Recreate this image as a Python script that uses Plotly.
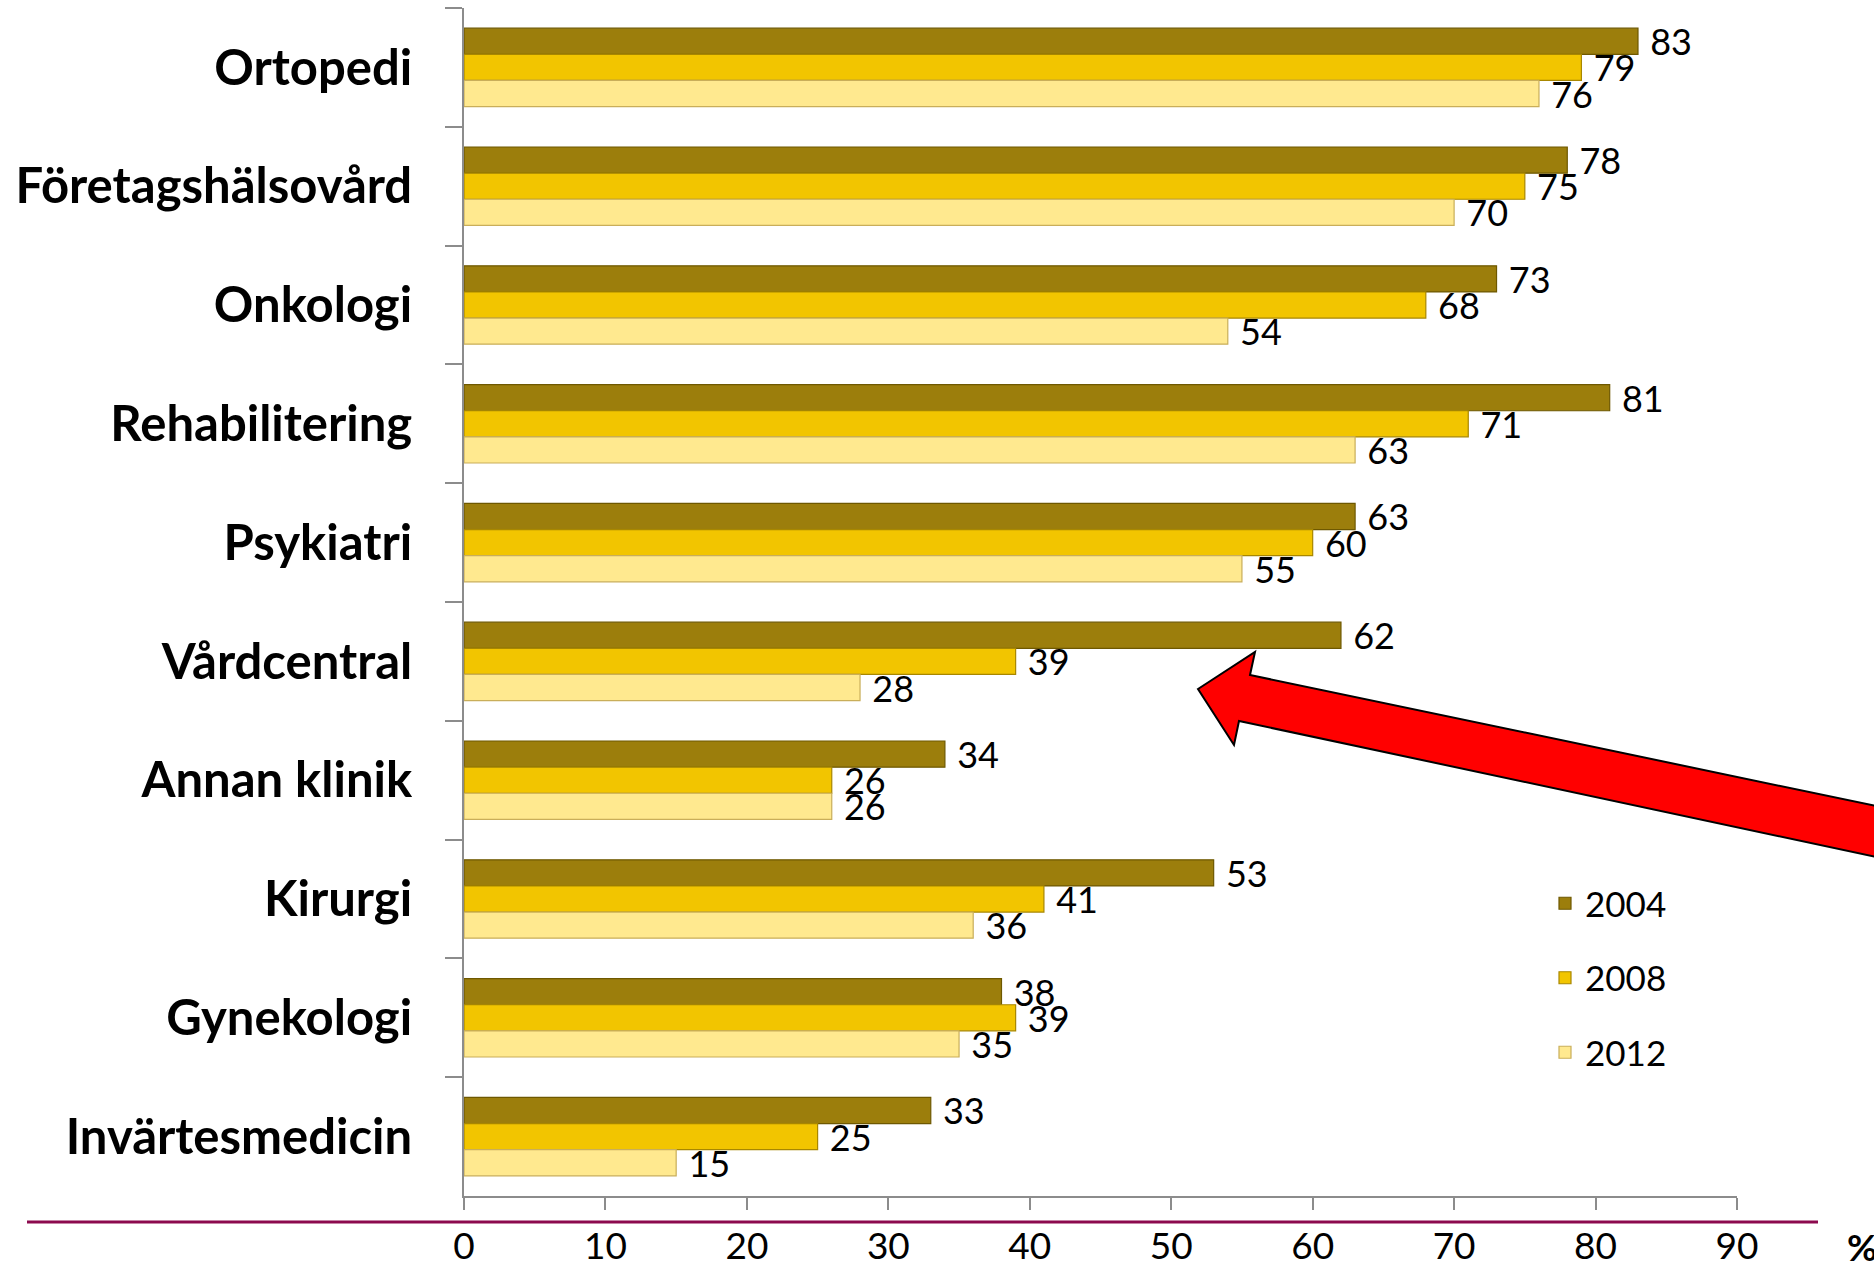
import plotly.graph_objects as go

categories = ["Ortopedi", "Företagshälsovård", "Onkologi", "Rehabilitering", "Psykiatri",
              "Vårdcentral", "Annan klinik", "Kirurgi", "Gynekologi", "Invärtesmedicin"]
years = ["2004", "2008", "2012"]
v2004 = [83, 78, 73, 81, 63, 62, 34, 53, 38, 33]
v2008 = [79, 75, 68, 71, 60, 39, 26, 41, 39, 25]
v2012 = [76, 70, 54, 63, 55, 28, 26, 36, 35, 15]
x_ticks = [0, 10, 20, 30, 40, 50, 60, 70, 80, 90]

series = [v2004, v2008, v2012]
fills = ["#9C7E0C", "#F2C500", "#FFE98F"]
edges = ["#6E5800", "#A88700", "#C9AE5A"]

W, H = 1874, 1268
L, R, T, B = 464, 137, 8, 72
PW, PH = W - L - R, H - T - B


def px(x, y):
    return (x - L) / PW, (H - B - y) / PH


fig = go.Figure()
for name, vals, fc, ec in zip(years, series, fills, edges):
    fig.add_trace(go.Bar(
        y=categories, x=vals, name=name, orientation="h",
        legendgroup=name,
        marker=dict(color=fc, line=dict(color=ec, width=1.2)),
        text=vals, texttemplate="\u00a0%{x}",
        textposition="outside", constraintext="none", cliponaxis=False,
        textfont=dict(family="Lato", size=36, color="black"),
    ))

# red arrow (pixel coordinates converted to paper)
pts = [(1198, 689), (1255, 652), (1250, 675), (1900, 811), (1900, 862),
       (1239, 721), (1234, 745)]
pp = [px(*p) for p in pts]
path = "M " + " L ".join(f"{a:.5f},{b:.5f}" for a, b in pp) + " Z"

x0, y0 = px(27, 1222)
x1, _ = px(1818, 1222)
shapes = [
    dict(type="line", xref="paper", yref="paper", x0=x0, x1=x1, y0=y0, y1=y0,
         line=dict(color="#8C0A4E", width=3), layer="above"),
    dict(type="path", xref="paper", yref="paper", path=path,
         fillcolor="#FF0000", line=dict(color="black", width=2), layer="above"),
]

pxx, pyy = px(1845, 1246)
annotations = [
    dict(text="<b>%</b>", xref="paper", yref="paper", x=pxx, y=pyy,
         xanchor="left", yanchor="middle", showarrow=False,
         font=dict(family="Lato", size=37, color="black")),
]

lx, ly = px(1545, 874)
fig.update_layout(
    width=W, height=H,
    margin=dict(l=L, r=R, t=T, b=B, autoexpand=False),
    paper_bgcolor="white", plot_bgcolor="white",
    barmode="group", bargap=0.34, bargroupgap=0,
    font=dict(family="Lato", size=35, color="black"),
    showlegend=True,
    legend=dict(x=lx, y=ly, xanchor="left", yanchor="top",
                font=dict(family="Lato", size=35, color="black"),
                tracegroupgap=26, traceorder="grouped",
                bgcolor="rgba(0,0,0,0)"),
    shapes=shapes, annotations=annotations,
)
fig.update_yaxes(
    categoryorder="array", categoryarray=categories, autorange="reversed",
    showline=True, linecolor="#8C8C8C", linewidth=2,
    ticks="outside", tickson="boundaries", ticklen=17, tickcolor="#8C8C8C", tickwidth=2,
    showgrid=False, ticklabelstandoff=40,
    tickfont=dict(family="Lato", size=49, color="black", weight="bold"),
)
fig.update_xaxes(
    range=[0, 90], tickvals=x_ticks, ticktext=[str(t) for t in x_ticks],
    showline=True, linecolor="#8C8C8C", linewidth=2,
    ticks="outside", ticklen=12, tickcolor="#8C8C8C", tickwidth=2,
    showgrid=False, zeroline=False, ticklabelstandoff=5,
    tickfont=dict(family="Lato", size=37, color="black"),
)

fig.write_html("out.html")
